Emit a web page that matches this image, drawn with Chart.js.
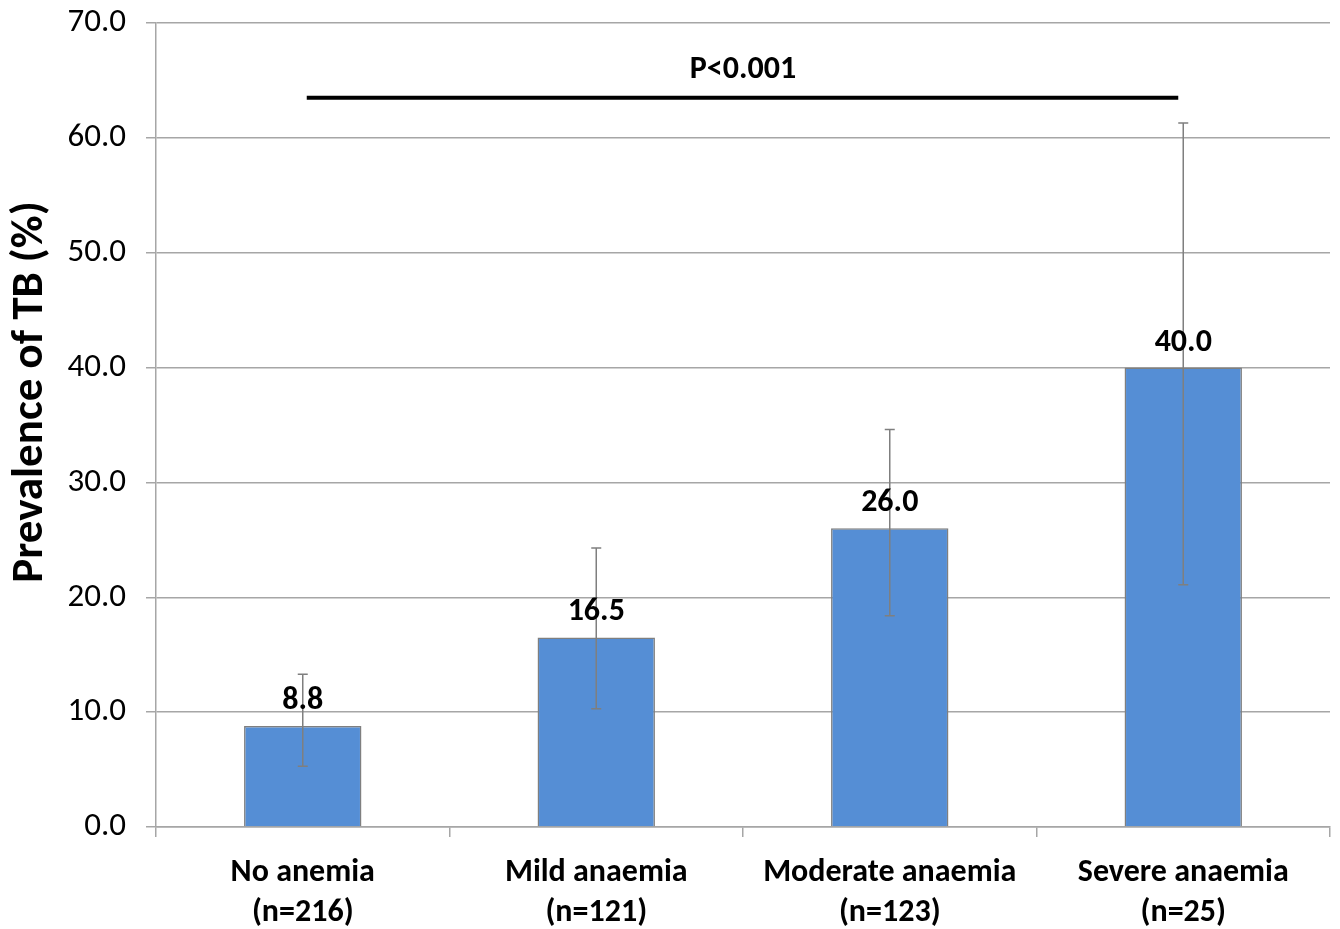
<!DOCTYPE html>
<html><head><meta charset="utf-8">
<script src="https://cdn.jsdelivr.net/npm/chart.js@4"></script>
<style>html,body{margin:0;padding:0;background:#fff}#wrap{width:1340px;height:929px}</style>
</head><body><div id="wrap"><canvas id="c" width="1340" height="929"></canvas></div>
<script>
const categories = [['No anemia','(n=216)'],['Mild anaemia','(n=121)'],['Moderate anaemia','(n=123)'],['Severe anaemia','(n=25)']];
const prevalence = [8.8, 16.5, 26.0, 40.0];
const ciLower = [5.3, 10.3, 18.4, 21.1];
const ciUpper = [13.3, 24.3, 34.6, 61.3];
const yTitle = 'Prevalence of TB (%)';
const pText = 'P<0.001';
const pLineValue = 63.5;
const pTextValue = 65.9;

const FONT = 'Carlito, Lato, "Open Sans", sans-serif';

const overlay = {
  id: 'overlay',
  afterDatasetsDraw(chart) {
    const ctx = chart.ctx, x = chart.scales.x, y = chart.scales.y;
    ctx.save();
    // error bars
    ctx.strokeStyle = '#7f7f7f'; ctx.lineWidth = 1.5;
    prevalence.forEach((v, i) => {
      const cx = x.getPixelForValue(i);
      const yl = y.getPixelForValue(ciLower[i]), yu = y.getPixelForValue(ciUpper[i]);
      ctx.beginPath();
      ctx.moveTo(cx, yl); ctx.lineTo(cx, yu);
      ctx.moveTo(cx - 5, yl); ctx.lineTo(cx + 5, yl);
      ctx.moveTo(cx - 5, yu); ctx.lineTo(cx + 5, yu);
      ctx.stroke();
    });
    // value labels
    ctx.fillStyle = '#000'; ctx.font = 'bold 32px ' + FONT;
    ctx.textAlign = 'center'; ctx.textBaseline = 'alphabetic';
    prevalence.forEach((v, i) => {
      ctx.fillText(v.toFixed(1), x.getPixelForValue(i), y.getPixelForValue(v) - 17);
    });
    // P bracket line
    const x0 = x.getPixelForValue(0) + 4, x1 = x.getPixelForValue(3) - 5;
    const yp = y.getPixelForValue(pLineValue);
    ctx.strokeStyle = '#000'; ctx.lineWidth = 4;
    ctx.beginPath(); ctx.moveTo(x0, yp); ctx.lineTo(x1, yp); ctx.stroke();
    ctx.textBaseline = 'middle';
    ctx.fillText(pText, (x.getPixelForValue(1) + x.getPixelForValue(2)) / 2, y.getPixelForValue(pTextValue));
    // y axis title
    ctx.translate(31, 392);
    ctx.rotate(-Math.PI / 2);
    ctx.font = 'bold 45px ' + FONT;
    ctx.textBaseline = 'middle';
    ctx.fillText(yTitle, 0, 0);
    ctx.restore();
  }
};

new Chart(document.getElementById('c'), {
  type: 'bar',
  data: {
    labels: categories,
    datasets: [{
      data: prevalence,
      backgroundColor: '#558ED5',
      borderColor: '#7f7f7f',
      borderWidth: 1.5,
      barPercentage: 0.4,
      categoryPercentage: 1.0
    }]
  },
  options: {
    responsive: false,
    animation: false,
    devicePixelRatio: 1,
    layout: { padding: { top: 23, right: 10, left: 5, bottom: 0 } },
    plugins: { legend: { display: false }, tooltip: { enabled: false } },
    scales: {
      y: {
        min: 0, max: 70,
        afterFit(s) { s.width = 151; s.paddingTop = 0; s.paddingBottom = 0; },
        ticks: { stepSize: 10, color: '#000', font: { family: FONT, size: 33 }, padding: 20,
          callback: v => v.toFixed(1) },
        grid: { color: '#a6a6a6', lineWidth: 1.5, tickLength: 10 },
        border: { color: '#a6a6a6', width: 1.5 }
      },
      x: {
        offset: true,
        afterFit(s) { s.height = 102; s.paddingLeft = 0; s.paddingRight = 0; },
        ticks: { color: '#000', font: { family: FONT, size: 32, weight: 'bold', lineHeight: 1.25 }, padding: 16, maxRotation: 0 },
        grid: { offset: true, drawOnChartArea: false, color: '#a6a6a6', lineWidth: 1.5, tickLength: 10 },
        border: { color: '#a6a6a6', width: 1.5 }
      }
    }
  },
  plugins: [overlay]
});
</script></body></html>
